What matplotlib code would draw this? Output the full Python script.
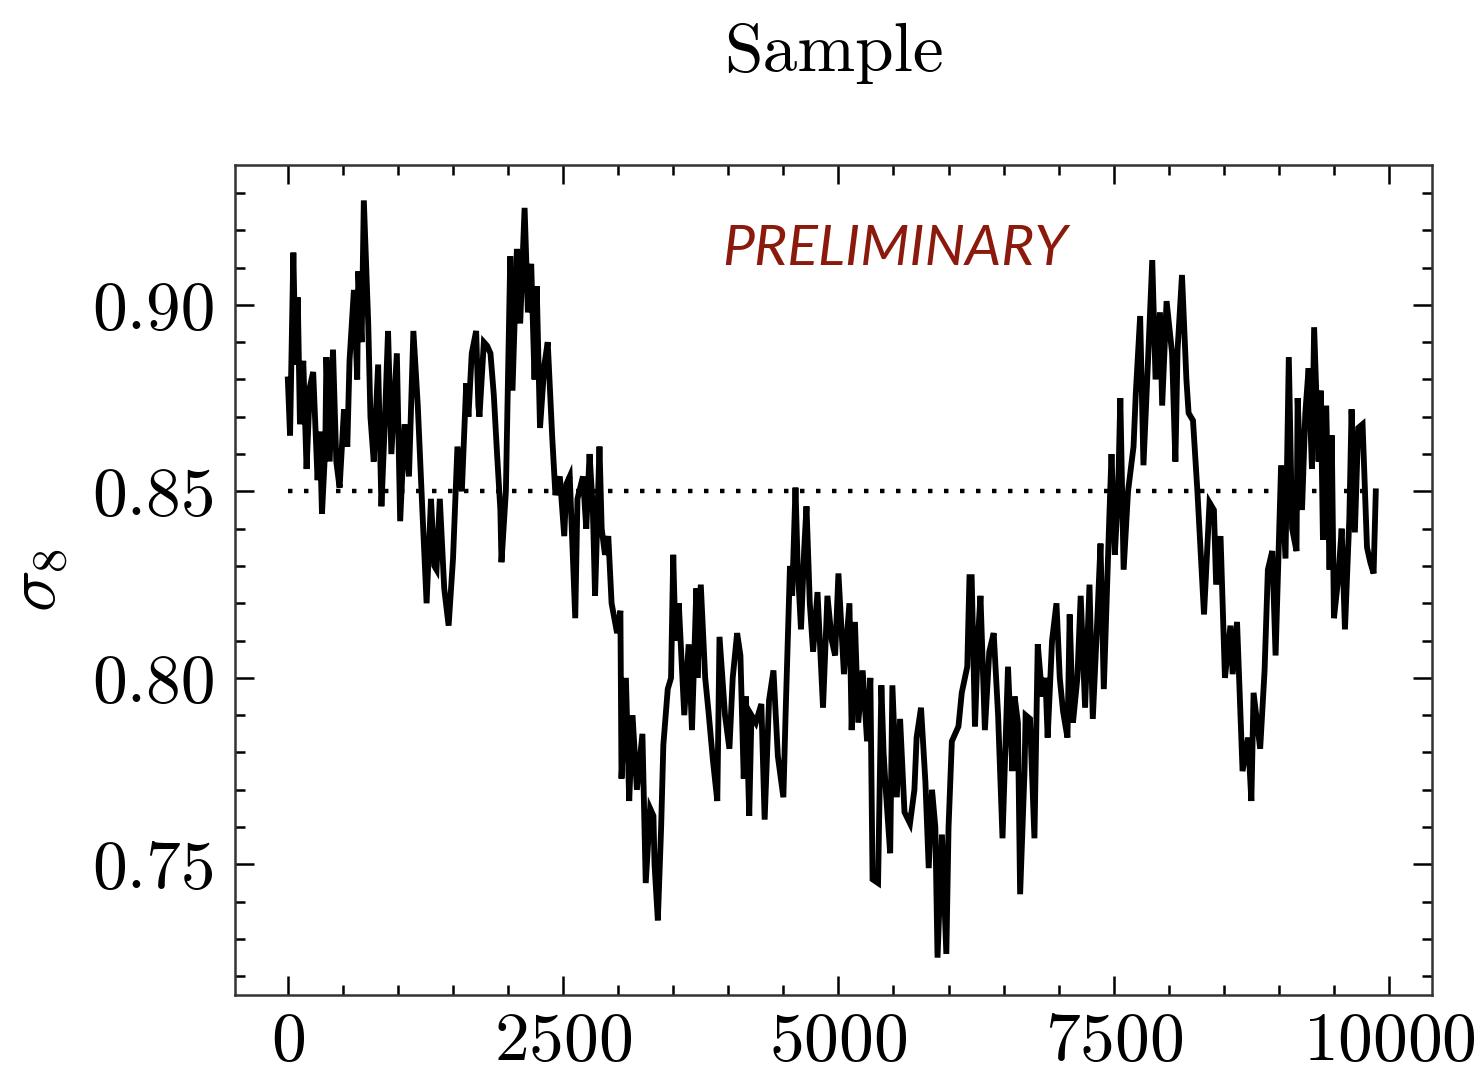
#!/usr/bin/env python3

import numpy as np
import matplotlib
matplotlib.use("Agg")
import matplotlib.pyplot as plt
from matplotlib.ticker import MultipleLocator, FormatStrFormatter

# chain sample index and sigma_8 value
samples = [
    0, 20, 50, 70, 90, 110, 140, 170, 200, 230, 270, 290, 310, 340, 350, 380,
    410, 440, 470, 510, 540, 560, 600, 630, 640, 670, 690, 730, 750, 780, 820,
    850, 880, 910, 940, 990, 1020, 1060, 1100, 1140, 1180, 1220, 1260, 1300,
    1330, 1350, 1380, 1420, 1460, 1500, 1540, 1580, 1620, 1640, 1670, 1710,
    1730, 1740, 1780, 1810, 1840, 1870, 1900, 1930, 1940, 1980, 2020, 2040,
    2080, 2110, 2150, 2180, 2210, 2240, 2260, 2290, 2330, 2360, 2400, 2430,
    2470, 2510, 2530, 2560, 2610, 2630, 2680, 2710, 2740, 2770, 2790, 2830,
    2850, 2880, 2910, 2940, 2990, 3020, 3030, 3070, 3100, 3130, 3170, 3220,
    3250, 3290, 3320, 3330, 3360, 3390, 3410, 3450, 3480, 3500, 3520, 3550,
    3600, 3640, 3670, 3710, 3720, 3750, 3790, 3820, 3860, 3900, 3920, 3970,
    4010, 4040, 4080, 4110, 4140, 4160, 4190, 4210, 4250, 4300, 4330, 4370,
    4410, 4450, 4500, 4520, 4560, 4580, 4610, 4630, 4660, 4690, 4710, 4740,
    4770, 4810, 4860, 4900, 4940, 4970, 5000, 5050, 5100, 5120, 5150, 5180,
    5220, 5260, 5290, 5310, 5360, 5390, 5410, 5430, 5470, 5490, 5530, 5560,
    5600, 5650, 5690, 5710, 5750, 5790, 5820, 5850, 5880, 5900, 5940, 5980,
    6000, 6030, 6090, 6120, 6170, 6190, 6210, 6240, 6270, 6290, 6330, 6370,
    6410, 6450, 6490, 6540, 6580, 6600, 6630, 6650, 6690, 6700, 6740, 6780,
    6810, 6850, 6880, 6900, 6940, 6980, 7010, 7040, 7080, 7100, 7130, 7170,
    7200, 7240, 7280, 7310, 7350, 7380, 7410, 7460, 7480, 7510, 7540, 7560,
    7590, 7630, 7680, 7700, 7740, 7770, 7810, 7850, 7880, 7920, 7940, 7980,
    8030, 8060, 8080, 8120, 8160, 8180, 8220, 8260, 8320, 8370, 8410, 8430,
    8470, 8510, 8560, 8580, 8620, 8670, 8720, 8750, 8770, 8830, 8870, 8900,
    8940, 8970, 9020, 9060, 9090, 9120, 9160, 9170, 9210, 9240, 9270, 9300,
    9320, 9360, 9380, 9400, 9430, 9460, 9480, 9500, 9540, 9570, 9600, 9640,
    9660, 9690, 9720, 9760, 9800, 9830, 9860, 9880,
]
sigma8 = [
    0.880, 0.865, 0.914, 0.884, 0.902, 0.868, 0.885, 0.856, 0.878, 0.882,
    0.853, 0.866, 0.844, 0.862, 0.886, 0.858, 0.888, 0.858, 0.851, 0.872,
    0.862, 0.885, 0.904, 0.880, 0.909, 0.890, 0.928, 0.895, 0.870, 0.858,
    0.884, 0.846, 0.868, 0.893, 0.860, 0.887, 0.842, 0.868, 0.854, 0.893,
    0.873, 0.846, 0.820, 0.848, 0.830, 0.829, 0.848, 0.824, 0.814, 0.832,
    0.862, 0.850, 0.879, 0.870, 0.887, 0.893, 0.873, 0.870, 0.890, 0.889,
    0.887, 0.876, 0.860, 0.845, 0.831, 0.850, 0.913, 0.877, 0.915, 0.895,
    0.926, 0.898, 0.911, 0.880, 0.905, 0.867, 0.884, 0.890, 0.865, 0.849,
    0.854, 0.838, 0.852, 0.854, 0.816, 0.848, 0.854, 0.840, 0.860, 0.845,
    0.822, 0.862, 0.840, 0.833, 0.838, 0.820, 0.812, 0.818, 0.773, 0.800,
    0.767, 0.790, 0.770, 0.785, 0.745, 0.765, 0.763, 0.750, 0.735, 0.760,
    0.782, 0.797, 0.800, 0.833, 0.810, 0.820, 0.790, 0.809, 0.786, 0.824,
    0.800, 0.825, 0.800, 0.791, 0.778, 0.767, 0.811, 0.790, 0.781, 0.800,
    0.812, 0.806, 0.773, 0.795, 0.763, 0.790, 0.788, 0.793, 0.762, 0.794,
    0.802, 0.779, 0.768, 0.790, 0.830, 0.822, 0.851, 0.830, 0.813, 0.835,
    0.846, 0.820, 0.807, 0.823, 0.792, 0.822, 0.810, 0.806, 0.828, 0.801,
    0.820, 0.786, 0.815, 0.788, 0.802, 0.783, 0.800, 0.746, 0.745, 0.798,
    0.780, 0.770, 0.753, 0.798, 0.768, 0.789, 0.764, 0.761, 0.770, 0.784,
    0.792, 0.772, 0.749, 0.770, 0.760, 0.725, 0.758, 0.726, 0.760, 0.783,
    0.787, 0.796, 0.803, 0.827, 0.827, 0.787, 0.812, 0.822, 0.786, 0.807,
    0.812, 0.790, 0.757, 0.803, 0.775, 0.795, 0.788, 0.742, 0.775, 0.790,
    0.789, 0.757, 0.809, 0.795, 0.800, 0.784, 0.810, 0.820, 0.800, 0.791,
    0.784, 0.817, 0.788, 0.800, 0.822, 0.792, 0.825, 0.789, 0.815, 0.836,
    0.797, 0.843, 0.860, 0.833, 0.850, 0.875, 0.829, 0.850, 0.862, 0.876,
    0.897, 0.857, 0.884, 0.912, 0.880, 0.898, 0.873, 0.901, 0.887, 0.858,
    0.888, 0.908, 0.880, 0.871, 0.869, 0.850, 0.817, 0.847, 0.845, 0.825,
    0.838, 0.800, 0.814, 0.801, 0.815, 0.775, 0.784, 0.767, 0.796, 0.781,
    0.802, 0.829, 0.834, 0.806, 0.857, 0.832, 0.886, 0.840, 0.834, 0.875,
    0.845, 0.871, 0.883, 0.856, 0.894, 0.858, 0.877, 0.837, 0.873, 0.829,
    0.865, 0.816, 0.827, 0.840, 0.813, 0.843, 0.872, 0.839, 0.867, 0.868,
    0.835, 0.831, 0.828, 0.850,
]
sigma8_true = 0.85

x_ticks = [0, 2500, 5000, 7500, 10000]
y_ticks = [0.75, 0.80, 0.85, 0.90]


def main():
    plt.rcParams["font.family"] = "serif"
    plt.rcParams["font.serif"] = ["cmr10"]
    plt.rcParams["mathtext.fontset"] = "cm"
    plt.rcParams["axes.formatter.use_mathtext"] = True

    fig = plt.figure(figsize=(14.77, 10.74), dpi=100)
    ax = fig.add_axes([0.1591, 0.0736, 0.8104, 0.7728])

    ax.plot(samples, sigma8, color="black", lw=4.2, solid_joinstyle="miter")
    # dotted line at the input value
    ax.hlines(sigma8_true, samples[0], samples[-1], colors="black",
              linestyles=(0, (1, 2.6)), lw=3.2)

    ax.set_xlim(-480, 10390)
    ax.set_ylim(0.715, 0.9375)
    ax.set_xticks(x_ticks)
    ax.set_yticks(y_ticks)
    ax.xaxis.set_minor_locator(MultipleLocator(500))
    ax.yaxis.set_minor_locator(MultipleLocator(0.01))
    ax.yaxis.set_major_formatter(FormatStrFormatter("%.2f"))

    ax.tick_params(which="both", direction="in", top=True, right=True,
                   labelsize=50, width=1.8)
    ax.tick_params(which="major", length=14)
    ax.tick_params(which="minor", length=7)
    ax.tick_params(axis="x", pad=12)
    ax.tick_params(axis="y", pad=14)
    for s in ax.spines.values():
        s.set_linewidth(1.8)
        s.set_color("#333333")

    ax.set_title("Sample", fontsize=50, pad=68)
    ax.set_ylabel(r"$\sigma_8$", fontsize=50, labelpad=16)

    ax.text(0.407, 0.8795, "PRELIMINARY", transform=ax.transAxes,
            fontsize=41, color="#8b1a0c", family="Lato", style="italic",
            ha="left", va="baseline")

    fig.savefig("out.png", dpi=100)


if __name__ == "__main__":
    main()
